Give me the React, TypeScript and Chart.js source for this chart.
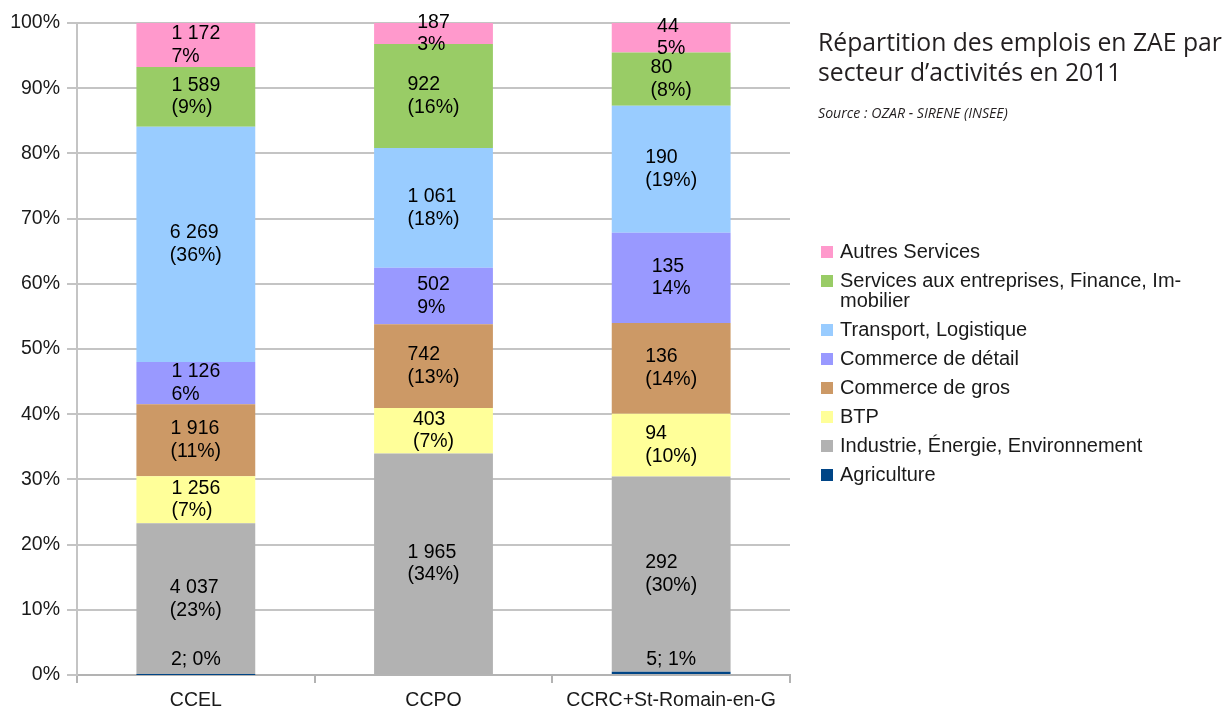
import { useEffect, useRef } from "react";
import { Chart, registerables } from "chart.js";

Chart.register(...registerables);

const categories = ["CCEL", "CCPO", "CCRC+St-Romain-en-G"];

const seriesNames = [
  "Agriculture",
  "Industrie, Énergie, Environnement",
  "BTP",
  "Commerce de gros",
  "Commerce de détail",
  "Transport, Logistique",
  "Services aux entreprises, Finance, Immobilier",
  "Autres Services",
];

// legend text as displayed (wrapped)
const legendLines = [
  ["Agriculture"],
  ["Industrie, Énergie, Environnement"],
  ["BTP"],
  ["Commerce de gros"],
  ["Commerce de détail"],
  ["Transport, Logistique"],
  ["Services aux entreprises, Finance, Im-", "mobilier"],
  ["Autres Services"],
];

const seriesColors = [
  "#004586",
  "#b2b2b2",
  "#ffff99",
  "#cc9966",
  "#9999ff",
  "#99ccff",
  "#99cc66",
  "#ff99cc",
];

// employment counts
const agriculture = [2, 0, 5];
const industrie = [4037, 1965, 292];
const btp = [1256, 403, 94];
const commerceGros = [1916, 742, 136];
const commerceDetail = [1126, 502, 135];
const transport = [6269, 1061, 190];
const services = [1589, 922, 80];
const autres = [1172, 187, 44];

// percentage labels as printed
const agriculturePct = ["0%", "", "1%"];
const industriePct = ["(23%)", "(34%)", "(30%)"];
const btpPct = ["(7%)", "(7%)", "(10%)"];
const commerceGrosPct = ["(11%)", "(13%)", "(14%)"];
const commerceDetailPct = ["6%", "9%", "14%"];
const transportPct = ["(36%)", "(18%)", "(19%)"];
const servicesPct = ["(9%)", "(16%)", "(8%)"];
const autresPct = ["7%", "3%", "5%"];

const yTickValues = [0, 10, 20, 30, 40, 50, 60, 70, 80, 90, 100];

const titleLines = ["Répartition des emplois en ZAE par", "secteur d’activités en 2011"];
const sourceText = "Source : OZAR - SIRENE (INSEE)";

const counts = [agriculture, industrie, btp, commerceGros, commerceDetail, transport, services, autres];
const pcts = [agriculturePct, industriePct, btpPct, commerceGrosPct, commerceDetailPct, transportPct, servicesPct, autresPct];

function fmt(n: number): string {
  return String(n).replace(/\B(?=(\d{3})+(?!\d))/g, " ");
}

const FONT = "'Liberation Sans', Arial, sans-serif";

const labelPlugin = {
  id: "segmentLabels",
  afterDatasetsDraw(chart: any) {
    const ctx = chart.ctx;
    const area = chart.chartArea;
    ctx.save();
    ctx.font = `19.5px ${FONT}`;
    ctx.fillStyle = "#000000";
    ctx.textBaseline = "middle";
    ctx.textAlign = "left";
    chart.data.datasets.forEach((ds: any, di: number) => {
      const meta = chart.getDatasetMeta(di);
      meta.data.forEach((el: any, i: number) => {
        const c = counts[di][i];
        if (!c) return;
        const pct = pcts[di][i];
        const lines = di === 0 ? [`${fmt(c)}; ${pct}`] : [fmt(c), pct];
        const lh = 22.5;
        let cy = (el.y + el.base) / 2;
        const half = (lines.length * lh) / 2;
        if (cy + half > area.bottom - 4) cy = area.bottom - 4 - half;
        const w = Math.max(...lines.map((l: string) => ctx.measureText(l).width));
        const x0 = el.x - w / 2;
        lines.forEach((l: string, li: number) => {
          ctx.fillText(l, x0, cy - half + lh / 2 + li * lh);
        });
      });
    });
    ctx.restore();
  },
  afterDraw(chart: any) {
    const ctx = chart.ctx;
    ctx.save();
    // title
    ctx.fillStyle = "#231f20";
    ctx.textBaseline = "alphabetic";
    ctx.textAlign = "left";
    ctx.font = `100px 'Open Sans', 'Noto Sans', sans-serif`;
    const m = ctx.measureText(titleLines[0]).width;
    const ts = (100 * 404) / m;
    ctx.font = `${ts}px 'Open Sans', 'Noto Sans', sans-serif`;
    ctx.fillText(titleLines[0], 818, 51);
    ctx.fillText(titleLines[1], 818, 81);
    ctx.font = `italic 100px 'Open Sans', 'Noto Sans', sans-serif`;
    const ms = ctx.measureText(sourceText).width;
    const ss = (100 * 190) / ms;
    ctx.font = `italic ${ss}px 'Open Sans', 'Noto Sans', sans-serif`;
    ctx.fillText(sourceText, 818, 118);

    // legend
    ctx.font = `20px ${FONT}`;
    ctx.textBaseline = "middle";
    let y = 252;
    for (let k = seriesNames.length - 1; k >= 0; k--) {
      ctx.fillStyle = seriesColors[k];
      ctx.fillRect(821, y - 6, 12, 12);
      ctx.fillStyle = "#1a1a1a";
      legendLines[k].forEach((l, li) => {
        ctx.fillText(l, 840, y + li * 20);
      });
      y += 29 + (legendLines[k].length - 1) * 20;
    }
    ctx.restore();
  },
};

export default function App() {
  const ref = useRef<HTMLCanvasElement | null>(null);
  useEffect(() => {
    document.body.style.margin = "0";
    if (!ref.current) return;
    const totals = categories.map((_, i) => counts.reduce((s, arr) => s + arr[i], 0));
    const datasets = counts.map((arr, k) => ({
      label: seriesNames[k],
      data: arr.map((v, i) => (v / totals[i]) * 100),
      backgroundColor: seriesColors[k],
      borderWidth: 0,
      barPercentage: 0.5,
      categoryPercentage: 1,
    }));
    const chart = new Chart(ref.current, {
      type: "bar",
      data: { labels: categories, datasets },
      options: {
        animation: false,
        responsive: false,
        maintainAspectRatio: false,
        layout: { padding: { left: 0, right: 435, top: 23, bottom: 0 } },
        plugins: {
          legend: { display: false },
          tooltip: { enabled: false },
          title: { display: false },
        },
        scales: {
          x: {
            stacked: true,
            grid: {
              display: true,
              drawOnChartArea: false,
              drawTicks: true,
              tickLength: 8,
              color: "#b3b3b3",
              lineWidth: 2,
              offset: true,
            },
            border: { display: true, color: "#b3b3b3", width: 2 },
            ticks: {
              color: "#1a1a1a",
              font: { size: 19.5, family: FONT },
              padding: 6,
            },
            afterFit: (s: any) => {
              s.height = 34;
            },
          },
          y: {
            stacked: true,
            min: 0,
            max: 100,
            afterBuildTicks: (s: any) => {
              s.ticks = yTickValues.map((v) => ({ value: v }));
            },
            grid: {
              color: "#c4c4c4",
              lineWidth: 2,
              tickLength: 10,
            },
            border: { display: true, color: "#c4c4c4", width: 2 },
            ticks: {
              color: "#1a1a1a",
              font: { size: 19.5, family: FONT },
              padding: 7,
              callback: (v: any) => `${v}%`,
            },
            afterFit: (s: any) => {
              s.width = 77;
            },
          },
        },
      },
      plugins: [labelPlugin],
    });
    return () => chart.destroy();
  }, []);
  return (
    <div style={{ width: 1225, height: 709, position: "relative", background: "#fff" }}>
      <canvas ref={ref} width={1225} height={709} style={{ display: "block" }} />
    </div>
  );
}
